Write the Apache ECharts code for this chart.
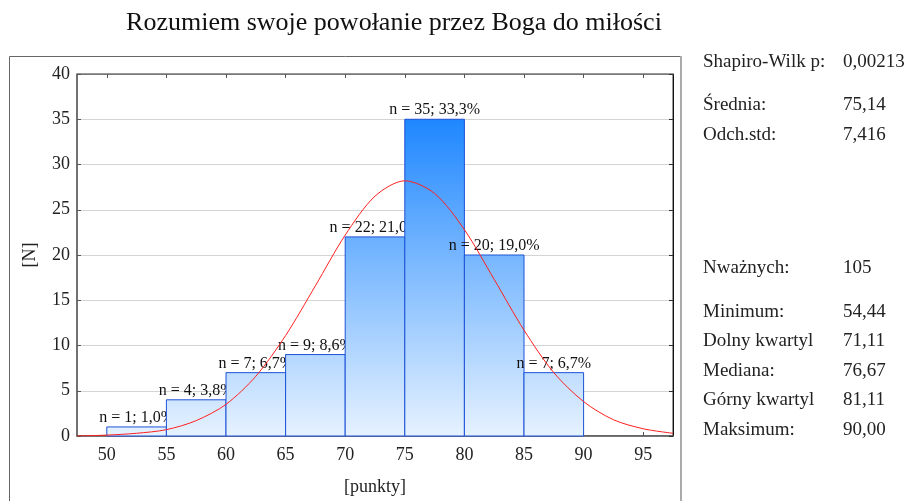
<!DOCTYPE html>
<html>
<head>
<meta charset="utf-8">
<script src="https://cdn.jsdelivr.net/npm/echarts@6/dist/echarts.min.js"></script>
<style>
  html, body { margin: 0; padding: 0; background: #fff; }
  #chart { width: 904px; height: 501px; }
</style>
</head>
<body>
<div id="chart"></div>
<script>
// histogram bins [od, do] and counts
var binFrom = [50, 55, 60, 65, 70, 75, 80, 85];
var binTo = [55, 60, 65, 70, 75, 80, 85, 90];
var counts = [1, 4, 7, 9, 22, 35, 20, 7];
var percents = ["1,0", "3,8", "6,7", "8,6", "21,0", "33,3", "19,0", "6,7"];

// krzywa normalna
var curveX = [47.5, 50, 52.5, 55, 57.5, 60, 62.5, 65, 67.5, 70, 72.5, 75, 77.5, 80, 82.5, 85, 87.5, 90, 92.5, 95, 97.5];
var curveY = [0, 0.1, 0.3, 0.7, 1.7, 3.5, 6.6, 11.1, 16.6, 22.2, 26.5, 28.2, 26.8, 22.8, 17.3, 11.7, 7.0, 3.8, 1.8, 0.8, 0.3];

var xTicks = [50, 55, 60, 65, 70, 75, 80, 85, 90, 95];

var statLabels = ["Shapiro-Wilk p:", "Średnia:", "Odch.std:", "Nważnych:", "Minimum:", "Dolny kwartyl", "Mediana:", "Górny kwartyl", "Maksimum:"];
var statValues = ["0,00213", "75,14", "7,416", "105", "54,44", "71,11", "76,67", "81,11", "90,00"];
var statRowsY = [62, 105, 135, 268, 312, 341, 371, 400, 430];

var serif = '"Liberation Serif", "DejaVu Serif", serif';
var chart = echarts.init(document.getElementById("chart"));

var barData = binFrom.map(function (v, i) {
  return [v, binTo[i], counts[i]];
});
var curveData = curveX.map(function (v, i) {
  return [v, curveY[i]];
});

var graphics = [
  {
    type: "rect",
    shape: { x: 9.5, y: 56.5, width: 672, height: 470 },
    style: { fill: null, stroke: "#666", lineWidth: 1 }
  },
  {
    type: "line",
    shape: { x1: 681, y1: 56, x2: 681, y2: 501 },
    style: { stroke: "#aaa", lineWidth: 2 }
  }
];
statLabels.forEach(function (t, i) {
  graphics.push({
    type: "text", x: 703, y: statRowsY[i],
    style: { text: t, font: "19px " + serif, fill: "#222", verticalAlign: "middle" }
  });
  graphics.push({
    type: "text", x: 843, y: statRowsY[i],
    style: { text: statValues[i], font: "19px " + serif, fill: "#222", verticalAlign: "middle" }
  });
});

var option = {
  backgroundColor: "#fff",
  animation: false,
  title: {
    text: "Rozumiem swoje powołanie przez Boga do miłości",
    left: 389,
    top: 5,
    textAlign: "center",
    textStyle: { fontFamily: serif, fontSize: 26, fontWeight: "normal", color: "#111" }
  },
  grid: {
    left: 77, top: 74, width: 596, height: 362,
    show: true, borderColor: "#333", borderWidth: 1
  },
  xAxis: [
    {
      type: "value", min: 47.5, max: 97.5, position: "bottom",
      name: "[punkty]", nameLocation: "middle", nameGap: 42,
      nameTextStyle: { fontFamily: serif, fontSize: 18, color: "#222" },
      axisLine: { show: true, onZero: false, lineStyle: { color: "#555", width: 1.5 } },
      axisTick: { show: true, inside: true, length: 4, customValues: xTicks, lineStyle: { color: "#555" } },
      axisLabel: { customValues: xTicks, margin: 10, fontFamily: serif, fontSize: 18, color: "#222" },
      splitLine: { show: false }
    },
    {
      type: "value", min: 47.5, max: 97.5, position: "top",
      axisLine: { show: true, onZero: false, lineStyle: { color: "#777" } },
      axisTick: { show: true, inside: true, length: 4, customValues: xTicks, lineStyle: { color: "#555" } },
      axisLabel: { show: false },
      splitLine: { show: false }
    }
  ],
  yAxis: [
    {
      type: "value", min: 0, max: 40, interval: 5, position: "left",
      name: "[N]", nameLocation: "middle", nameGap: 38, nameRotate: 90,
      nameTextStyle: { fontFamily: serif, fontSize: 18, color: "#222" },
      axisLine: { show: true, lineStyle: { color: "#666", width: 1.5 } },
      axisTick: { show: true, inside: true, length: 4, lineStyle: { color: "#555" } },
      axisLabel: { margin: 7, fontFamily: serif, fontSize: 18, color: "#222" },
      splitLine: { show: true, lineStyle: { color: "#d4d4d4", width: 1 } }
    },
    {
      type: "value", min: 0, max: 40, interval: 5, position: "right",
      axisLine: { show: true, lineStyle: { color: "#111" } },
      axisTick: { show: true, inside: true, length: 4, lineStyle: { color: "#333" } },
      axisLabel: { show: false },
      splitLine: { show: false }
    }
  ],
  graphic: graphics,
  series: [
    {
      type: "custom",
      xAxisIndex: 0, yAxisIndex: 0,
      data: barData,
      encode: { x: [0, 1], y: 2 },
      renderItem: function (params, api) {
        var i = params.dataIndex;
        var p0 = api.coord([api.value(0), api.value(2)]);
        var p1 = api.coord([api.value(1), 0]);
        var gTop = api.coord([0, 35])[1];
        var gBottom = api.coord([0, 0])[1];
        var fill = new echarts.graphic.LinearGradient(0, gTop, 0, gBottom, [
          { offset: 0, color: "#1e87ff" },
          { offset: 0.45, color: "#7ab8ff" },
          { offset: 1, color: "#e6f2ff" }
        ], true);
        return {
          type: "group",
          children: [
            {
              type: "rect", z2: 2 * i,
              shape: { x: p0[0], y: p0[1], width: p1[0] - p0[0], height: p1[1] - p0[1] },
              style: { fill: fill, stroke: "#1c52d6", lineWidth: 1 }
            },
            {
              type: "text", z2: 2 * i + 1,
              x: (p0[0] + p1[0]) / 2, y: p0[1] - 1,
              style: {
                text: "n = " + counts[i] + "; " + percents[i] + "%",
                font: "16px " + serif, fill: "#111",
                align: "center", verticalAlign: "bottom"
              }
            }
          ]
        };
      }
    },
    {
      type: "line",
      xAxisIndex: 0, yAxisIndex: 0,
      data: curveData,
      smooth: 0.3,
      showSymbol: false,
      z: 3,
      lineStyle: { color: "#ff1f1f", width: 1 }
    }
  ]
};

chart.setOption(option);
window.addEventListener("resize", function () {
  chart.resize();
});
</script>
</body>
</html>
